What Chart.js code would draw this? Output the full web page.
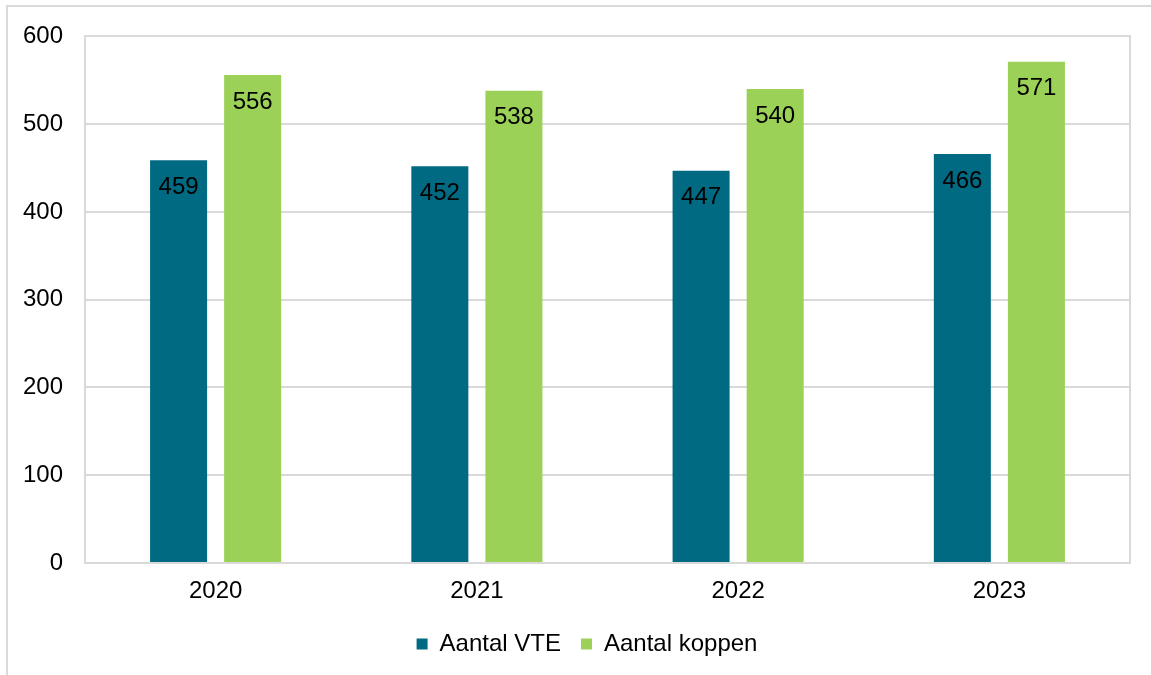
<!DOCTYPE html>
<html>
<head>
<meta charset="utf-8">
<script src="https://cdn.jsdelivr.net/npm/chart.js@4/dist/chart.umd.min.js"></script>
<style>
  html, body { margin: 0; padding: 0; background: #fff; }
  .wrap { width: 1151px; height: 675px; position: relative; }
</style>
</head>
<body>
<div class="wrap"><canvas id="chart"></canvas></div>
<script>
// chart data
const years = ['2020', '2021', '2022', '2023'];
const aantalVTE = [459, 452, 447, 466];
const aantalKoppen = [556, 538, 540, 571];
const yTicks = [0, 100, 200, 300, 400, 500, 600];

const FONT = "'Liberation Sans', Arial, sans-serif";
const GRID = '#d9d9d9';

// outer frame + plot frame, legend nudged to sit under the plot
const framePlugin = {
  id: 'frames',
  afterLayout(chart) {
    chart.legend.left += 22;
    chart.legend.right += 22;
  },
  beforeDraw(chart) {
    const ctx = chart.ctx;
    ctx.save();
    ctx.strokeStyle = GRID;
    ctx.lineWidth = 2;
    ctx.strokeRect(7, 6, 1300, 800);
    ctx.restore();
  },
  beforeDatasetsDraw(chart) {
    const { ctx, chartArea: a } = chart;
    ctx.save();
    ctx.strokeStyle = GRID;
    ctx.lineWidth = 2;
    ctx.strokeRect(Math.round(a.left), Math.round(a.top), Math.round(a.right - a.left), Math.round(a.bottom - a.top));
    ctx.restore();
  }
};

// value labels inside top of bars
const valueLabels = {
  id: 'valueLabels',
  afterDatasetsDraw(chart) {
    const ctx = chart.ctx;
    ctx.save();
    ctx.font = '24px ' + FONT;
    ctx.fillStyle = '#000';
    ctx.textAlign = 'center';
    ctx.textBaseline = 'middle';
    chart.data.datasets.forEach((ds, i) => {
      chart.getDatasetMeta(i).data.forEach((bar, j) => {
        ctx.fillText(String(ds.data[j]), bar.x, bar.y + 27);
      });
    });
    ctx.restore();
  }
};

new Chart(document.getElementById('chart'), {
  type: 'bar',
  data: {
    labels: years,
    datasets: [
      {
        label: 'Aantal VTE',
        data: aantalVTE,
        backgroundColor: '#016A83',
        categoryPercentage: 0.567,
        barPercentage: 0.77
      },
      {
        label: 'Aantal koppen',
        data: aantalKoppen,
        backgroundColor: '#9BD157',
        categoryPercentage: 0.567,
        barPercentage: 0.77
      }
    ]
  },
  options: {
    responsive: true,
    maintainAspectRatio: false,
    animation: false,
    layout: { padding: { top: 36, right: 21, bottom: 9, left: 0 } },
    scales: {
      x: {
        grid: { display: false, drawTicks: false },
        border: { display: false },
        ticks: { color: '#000', font: { family: FONT, size: 24 }, padding: 14 },
        afterFit(scale) { scale.height = 49; }
      },
      y: {
        min: 0,
        max: 600,
        afterBuildTicks(scale) { scale.ticks = yTicks.map(v => ({ value: v })); },
        grid: { color: GRID, lineWidth: 2, drawTicks: false },
        border: { display: false },
        ticks: { color: '#000', font: { family: FONT, size: 24 }, padding: 22 },
        afterFit(scale) { scale.width = 85; }
      }
    },
    plugins: {
      legend: {
        position: 'bottom',
        labels: {
          color: '#000',
          font: { family: FONT, size: 24 },
          boxWidth: 11,
          boxHeight: 11,
          padding: 20
        }
      },
      tooltip: { enabled: false }
    }
  },
  plugins: [framePlugin, valueLabels]
});
</script>
</body>
</html>
